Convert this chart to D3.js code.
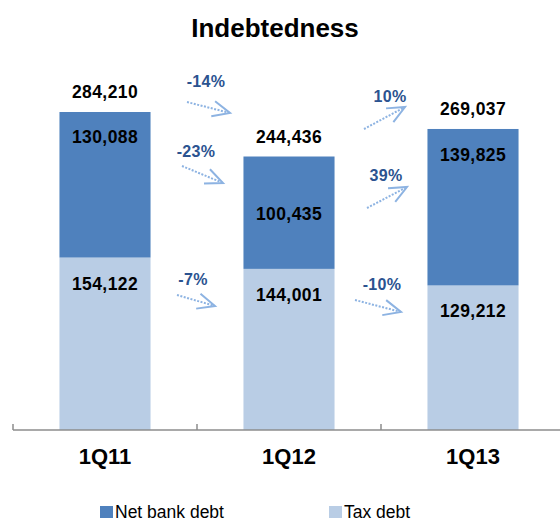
<!DOCTYPE html>
<html>
<head>
<meta charset="utf-8">
<script src="https://cdn.jsdelivr.net/npm/d3@7"></script>
<style>
  body { margin: 0; background: #fff; }
  svg { display: block; font-family: "Liberation Sans", Arial, sans-serif; }
</style>
</head>
<body>
<svg id="chart"></svg>
<script>
  const categories = ['1Q11', '1Q12', '1Q13'];
  const netBankDebt = [130088, 100435, 139825];
  const taxDebt = [154122, 144001, 129212];
  const totals = [284210, 244436, 269037];
  const seriesNames = ['Net bank debt', 'Tax debt'];
  // changes between quarters: [total, net bank debt, tax debt]
  const changeLabels = [
    ['-14%', '-23%', '-7%'],
    ['10%', '39%', '-10%']
  ];

  const WIDTH = 560;
  const HEIGHT = 521;
  const AXIS_Y = 430;
  const COLORS = ['#4F81BD', '#B9CDE5'];

  const svg = d3.select('#chart')
    .attr('width', WIDTH)
    .attr('height', HEIGHT);

  const x = d3.scaleBand()
    .domain(categories)
    .range([13, 565])
    .paddingInner(0.505)
    .paddingOuter(0.2525);

  const y = d3.scaleLinear()
    .domain([0, 300000])
    .range([AXIS_Y, AXIS_Y - 300000 * 318 / 284210]);

  svg.append('text')
    .attr('x', 275)
    .attr('y', 37)
    .attr('text-anchor', 'middle')
    .attr('font-size', 26)
    .attr('font-weight', 'bold')
    .text('Indebtedness');

  const data = categories.map((c, i) => ({
    cat: c, net: netBankDebt[i], tax: taxDebt[i], total: totals[i]
  }));

  const bars = svg.selectAll('.bar')
    .data(data)
    .enter().append('g')
    .classed('bar', true);

  bars.append('rect')
    .attr('x', d => x(d.cat))
    .attr('width', x.bandwidth())
    .attr('y', d => y(d.tax))
    .attr('height', d => y(0) - y(d.tax))
    .attr('fill', COLORS[1]);

  bars.append('rect')
    .attr('x', d => x(d.cat))
    .attr('width', x.bandwidth())
    .attr('y', d => y(d.tax + d.net))
    .attr('height', d => y(d.tax) - y(d.tax + d.net))
    .attr('fill', COLORS[0]);

  const fmt = d3.format(',');
  const netLabelOffset = [31, 63, 32];

  bars.append('text')
    .attr('x', d => x(d.cat) + x.bandwidth() / 2)
    .attr('y', d => y(d.total) - 14)
    .text(d => fmt(d.total));

  bars.append('text')
    .attr('x', d => x(d.cat) + x.bandwidth() / 2)
    .attr('y', (d, i) => y(d.tax + d.net) + netLabelOffset[i])
    .text(d => fmt(d.net));

  bars.append('text')
    .attr('x', d => x(d.cat) + x.bandwidth() / 2)
    .attr('y', d => y(d.tax) + 32)
    .text(d => fmt(d.tax));

  bars.selectAll('text')
    .attr('text-anchor', 'middle')
    .attr('font-size', 17.5)
    .attr('font-weight', 'bold')
    .attr('letter-spacing', 0.4)
    .attr('fill', '#000');

  // axis
  const axis = svg.append('g')
    .attr('transform', `translate(0, ${AXIS_Y})`)
    .call(d3.axisBottom(x).tickSize(0).tickPadding(18));
  axis.select('.domain').remove();
  axis.selectAll('text')
    .attr('font-size', 22)
    .attr('font-weight', 'bold')
    .attr('font-family', '"Liberation Sans", Arial, sans-serif')
    .attr('fill', '#000');

  svg.append('line')
    .attr('x1', 13).attr('x2', WIDTH)
    .attr('y1', AXIS_Y).attr('y2', AXIS_Y)
    .attr('stroke', '#8c8c8c')
    .attr('stroke-width', 1.5);

  svg.selectAll('.tick-mark')
    .data(categories)
    .enter().append('line')
    .classed('tick-mark', true)
    .attr('x1', d => x(d) - x.step() * x.paddingInner() / 2)
    .attr('x2', d => x(d) - x.step() * x.paddingInner() / 2)
    .attr('y1', AXIS_Y)
    .attr('y2', AXIS_Y - 6)
    .attr('stroke', '#8c8c8c')
    .attr('stroke-width', 1.5);

  // change arrows, placed relative to the gap between bars
  const arrowLayout = [
    [ {tx: 9, ty: 87, x1: -10, y1: 102, x2: 33, y2: 113},
      {tx: -1, ty: 157, x1: -15, y1: 166, x2: 26, y2: 183},
      {tx: -4, ty: 285, x1: -20, y1: 295, x2: 18, y2: 306} ],
    [ {tx: 9, ty: 102, x1: -17, y1: 129, x2: 24, y2: 107},
      {tx: 5, ty: 181, x1: -14, y1: 208, x2: 26, y2: 187},
      {tx: 1, ty: 290, x1: -26, y1: 300, x2: 20, y2: 312} ]
  ];

  const arrows = [];
  changeLabels.forEach((labels, g) => {
    const cx = (x(categories[g]) + x.bandwidth() + x(categories[g + 1])) / 2;
    labels.forEach((lab, k) => {
      const l = arrowLayout[g][k];
      arrows.push({
        label: lab, tx: cx + l.tx, ty: l.ty,
        x1: cx + l.x1, y1: l.y1, x2: cx + l.x2, y2: l.y2
      });
    });
  });

  const arrowColor = '#8DB3E2';
  const ann = svg.selectAll('.ann')
    .data(arrows)
    .enter().append('g')
    .classed('ann', true);

  ann.append('text')
    .attr('x', d => d.tx)
    .attr('y', d => d.ty)
    .attr('text-anchor', 'middle')
    .attr('font-size', 16)
    .attr('font-weight', 'bold')
    .attr('letter-spacing', 0.3)
    .attr('fill', '#2B5390')
    .text(d => d.label);

  ann.append('line')
    .attr('x1', d => d.x1).attr('y1', d => d.y1)
    .attr('x2', d => d.x2).attr('y2', d => d.y2)
    .attr('stroke', arrowColor)
    .attr('stroke-width', 2)
    .attr('stroke-dasharray', '2,1.5');

  ann.append('path')
    .attr('d', d => {
      const ang = Math.atan2(d.y1 - d.y2, d.x1 - d.x2);
      const len = 19, spread = 0.42;
      const a = [d.x2 + len * Math.cos(ang - spread), d.y2 + len * Math.sin(ang - spread)];
      const b = [d.x2 + len * Math.cos(ang + spread), d.y2 + len * Math.sin(ang + spread)];
      return `M${a[0]},${a[1]}L${d.x2},${d.y2}L${b[0]},${b[1]}`;
    })
    .attr('fill', 'none')
    .attr('stroke', arrowColor)
    .attr('stroke-width', 2);

  // legend
  const legendX = [100, 329];
  const legend = svg.selectAll('.legend')
    .data(seriesNames)
    .enter().append('g')
    .classed('legend', true)
    .attr('transform', (d, i) => `translate(${legendX[i]}, 506)`);

  legend.append('rect')
    .attr('width', 13)
    .attr('height', 12)
    .attr('fill', (d, i) => COLORS[i]);

  legend.append('text')
    .attr('x', 15)
    .attr('y', 12)
    .attr('font-size', 17.5)
    .attr('fill', '#000')
    .text(d => d);
</script>
</body>
</html>
